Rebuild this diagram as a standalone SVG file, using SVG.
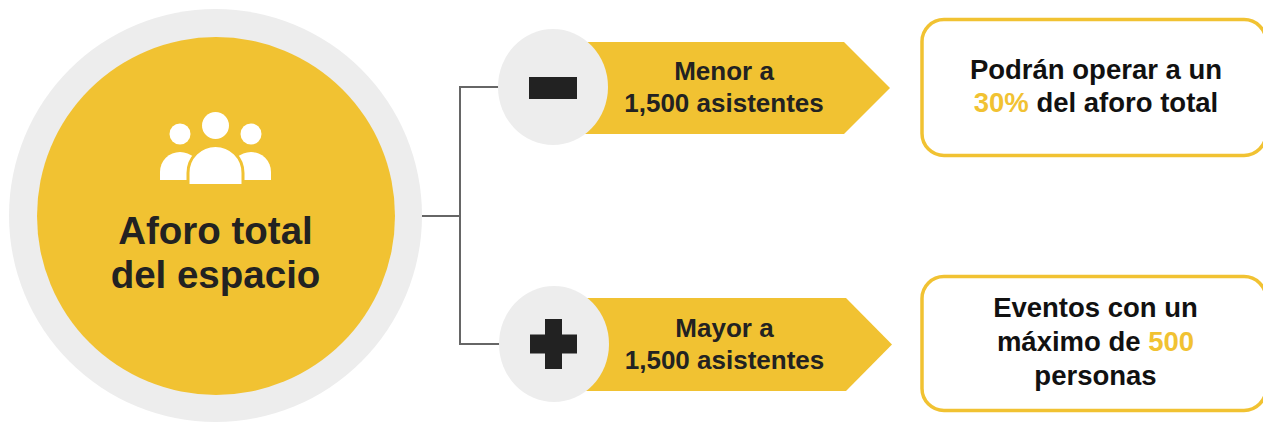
<svg xmlns="http://www.w3.org/2000/svg" width="1263" height="424" viewBox="0 0 1263 424">
  <style>
    .t { font-family: "Liberation Sans", Arial, sans-serif; font-weight: bold; text-anchor: middle; }
    .main { font-size: 38.5px; fill: #222222; }
    .arr { font-size: 26px; fill: #222222; }
    .box { font-size: 27.5px; fill: #111111; }
    .hl { fill: #F1C232; }
    .yel { fill: #F1C232; }
    .gray { fill: #EDEDED; }
    .dark { fill: #222222; }
    .frame { fill: #FFFFFF; stroke: #F1C232; stroke-width: 3.5; }
    .conn { fill: none; stroke: #666666; stroke-width: 2; }
    .icon { fill: #FFFFFF; }
  </style>

  <g id="connectors">
    <path class="conn" d="M420,216 H460 M460,87 V344 M459,87 H500 M459,344 H500"/>
  </g>

  <g id="main-node">
    <circle class="gray" cx="215.5" cy="215.5" r="206.5"/>
    <circle class="yel" cx="216" cy="216" r="179"/>
    <g id="people-icon">
      <circle class="icon" cx="215.5" cy="125.5" r="13.5"/>
      <circle class="icon" cx="180" cy="134" r="10.5"/>
      <circle class="icon" cx="251" cy="134" r="10.5"/>
      <path class="icon" d="M160,180 V172 A20,20 0 0 1 200,172 V180 Z"/>
      <path class="icon" d="M231,180 V172 A20,20 0 0 1 271,172 V180 Z"/>
      <path class="icon" d="M188,185.5 V173 A27.5,27.5 0 0 1 243,173 V185.5 Z" stroke="#F1C232" stroke-width="3"/>
    </g>
    <text class="t main" x="215.5" y="244">Aforo total</text>
    <text class="t main" x="215.5" y="288">del espacio</text>
  </g>

  <g id="menor-node">
    <polygon class="yel" points="575,42 844,42 890,88 844,134 575,134"/>
    <ellipse class="gray" cx="553" cy="87" rx="55" ry="58"/>
    <rect class="dark" x="529" y="77" width="48" height="22"/>
    <text class="t arr" x="724" y="80">Menor a</text>
    <text class="t arr" x="724" y="112">1,500 asistentes</text>
  </g>

  <g id="mayor-node">
    <polygon class="yel" points="576,298 846,298 892,344.5 846,391 576,391"/>
    <ellipse class="gray" cx="554" cy="344" rx="55" ry="58"/>
    <rect class="dark" x="530" y="334.5" width="47" height="19"/>
    <rect class="dark" x="545" y="319" width="17" height="50"/>
    <text class="t arr" x="724.5" y="337">Mayor a</text>
    <text class="t arr" x="724.5" y="369">1,500 asistentes</text>
  </g>

  <g id="result-30">
    <rect class="frame" x="922" y="19.5" width="344" height="136" rx="22"/>
    <text class="t box" x="1096" y="79">Podrán operar a un</text>
    <text class="t box" x="1096" y="112"><tspan class="hl">30%</tspan> del aforo total</text>
  </g>

  <g id="result-500">
    <rect class="frame" x="922" y="276.5" width="344" height="134" rx="22"/>
    <text class="t box" x="1095.5" y="317">Eventos con un</text>
    <text class="t box" x="1095.5" y="351">máximo de <tspan class="hl">500</tspan></text>
    <text class="t box" x="1095.5" y="385">personas</text>
  </g>
</svg>
